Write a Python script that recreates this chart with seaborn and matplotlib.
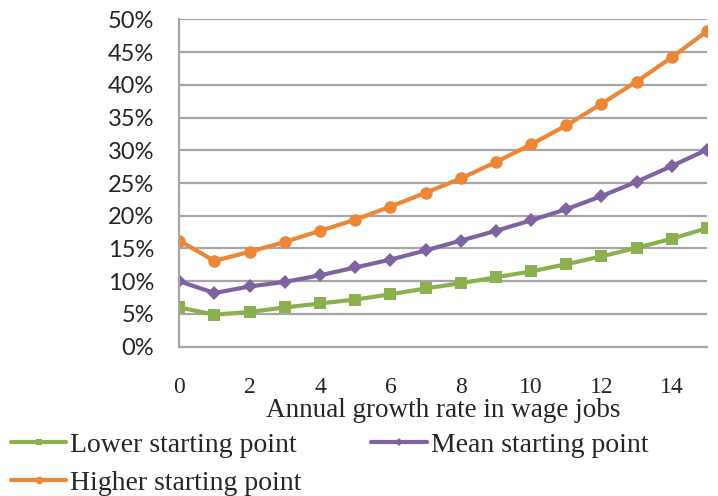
import matplotlib
matplotlib.use("Agg")
import matplotlib.pyplot as plt
import seaborn as sns
import pandas as pd
from matplotlib.ticker import PercentFormatter

# growth rate in wage jobs (x) and share values (%) for each starting point
growth = list(range(16))
lower = [6.0, 4.9, 5.3, 6.0, 6.6, 7.2, 8.0, 8.9, 9.7, 10.6, 11.5, 12.6, 13.8, 15.1, 16.5, 18.1]
mean = [10.0, 8.2, 9.2, 9.9, 10.9, 12.1, 13.3, 14.7, 16.2, 17.7, 19.3, 21.0, 23.0, 25.2, 27.6, 30.1]
higher = [16.2, 13.1, 14.5, 16.0, 17.7, 19.4, 21.4, 23.5, 25.7, 28.2, 30.9, 33.8, 37.1, 40.5, 44.2, 48.2]
series_names = ["Lower starting point", "Mean starting point", "Higher starting point"]
xticks = [0, 2, 4, 6, 8, 10, 12, 14]
yticks = [0, 5, 10, 15, 20, 25, 30, 35, 40, 45, 50]

df = pd.DataFrame({"growth": growth,
                   series_names[0]: lower,
                   series_names[1]: mean,
                   series_names[2]: higher})
long_df = df.melt(id_vars="growth", var_name="series", value_name="share")

sns.set_style("white")
plt.rcParams['font.family'] = ['Liberation Serif', 'DejaVu Serif']

colors = {series_names[0]: "#8DB04E", series_names[1]: "#7E62A1", series_names[2]: "#EE8636"}
markers = {series_names[0]: "s", series_names[1]: "D", series_names[2]: "o"}
sizes = {series_names[0]: 8, series_names[1]: 7, series_names[2]: 9}

fig = plt.figure(figsize=(7.18, 4.96), dpi=100)
ax = fig.add_axes([0.2497, 0.301, 0.735, 0.660])

for name in series_names:
    sub = long_df[long_df["series"] == name]
    sns.lineplot(data=sub, x="growth", y="share", color=colors[name],
                 marker=markers[name], markersize=sizes[name],
                 markeredgewidth=0, linewidth=3, label=name, ax=ax)

ax.set_xlim(0, 15)
ax.set_ylim(0, 50)
ax.set_xticks(xticks)
ax.set_yticks(yticks)
ax.yaxis.set_major_formatter(PercentFormatter(decimals=0))
ax.grid(axis="y", color="#A6A6A6", linewidth=1.6)
ax.set_axisbelow(True)
for side in ["top", "right"]:
    ax.spines[side].set_visible(False)
for side in ["left", "bottom"]:
    ax.spines[side].set_color("#A6A6A6")
    ax.spines[side].set_linewidth(1.6)
ax.tick_params(axis="both", length=0)
ax.tick_params(axis="x", pad=22, labelsize=17)
ax.tick_params(axis="y", pad=18)
for lab in ax.get_yticklabels():
    lab.set_family(["Lato", "DejaVu Sans"])
    lab.set_fontsize(17)

ax.set_xlabel("Annual growth rate in wage jobs", fontsize=19.5, labelpad=0)
ax.set_ylabel("")

# reorder so the legend fills row by row: Lower, Mean / Higher
ax.legend_.remove()
handles, labels = ax.get_legend_handles_labels()
order = [0, 2, 1]
fig.legend([handles[i] for i in order], [labels[i] for i in order],
           loc="upper left", bbox_to_anchor=(0.015, 0.128),
           ncol=2, frameon=False, fontsize=20, handlelength=2.0,
           handletextpad=0.15, columnspacing=2.5, labelspacing=0.45,
           borderaxespad=0, borderpad=0, markerscale=0.6)

fig.savefig("out.png", dpi=100)
